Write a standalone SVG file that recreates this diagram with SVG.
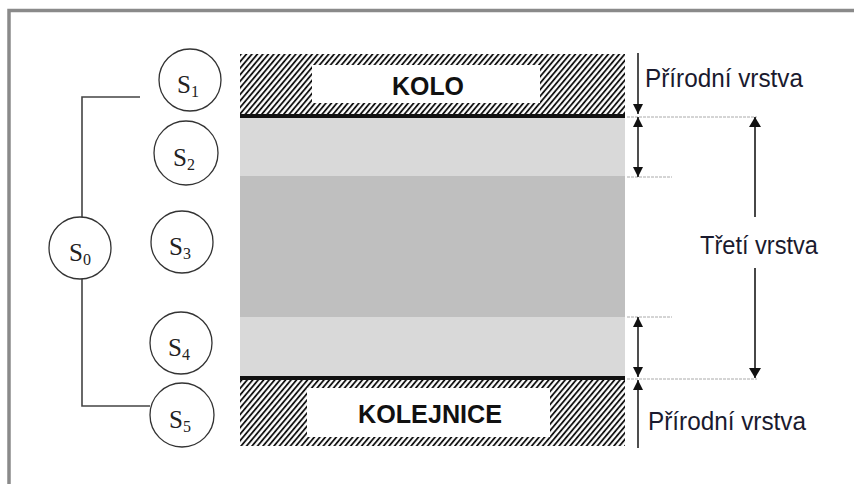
<svg xmlns="http://www.w3.org/2000/svg" width="854" height="484" viewBox="0 0 854 484">
<style>
.frame{fill:none;stroke:#8a8a8a;stroke-width:3.5}
.node circle{fill:#fff;stroke:#333;stroke-width:1.3}
.node text{font-family:"Liberation Serif","Times New Roman",serif;font-size:25px;fill:#222;text-anchor:middle}
.sub{font-size:16px}
.conn{fill:none;stroke:#444;stroke-width:1.6}
.lbl{font-family:"Liberation Sans",Arial,sans-serif;font-size:25px;fill:#1a1a2e}
.bold{font-family:"Liberation Sans",Arial,sans-serif;font-weight:bold;font-size:25px;fill:#111;text-anchor:middle}
.dot{stroke:#aaa;stroke-width:1;stroke-dasharray:3 1}
.arr{stroke:#222;stroke-width:1.6;fill:none}
.big{stroke:#333;stroke-width:1.8;fill:none}
</style>
<defs>
<pattern id="hatch" patternUnits="userSpaceOnUse" width="4.2" height="8" patternTransform="rotate(40)">
<line x1="1" y1="0" x2="1" y2="8" stroke="#000" stroke-width="1.7"/>
</pattern>
<marker id="ah" viewBox="0 0 10 10" refX="10" refY="5" markerWidth="10" markerHeight="10" markerUnits="userSpaceOnUse" orient="auto-start-reverse">
<path d="M0,0 L10,5 L0,10 Z" fill="#111"/>
</marker>
<marker id="ahb" viewBox="0 0 10 12" refX="10" refY="6" markerWidth="11" markerHeight="12" markerUnits="userSpaceOnUse" orient="auto-start-reverse">
<path d="M0,0 L10,6 L0,12 Z" fill="#111"/>
</marker>
</defs>
<rect width="854" height="484" fill="#fff"/>
<path class="frame" d="M9,484 V10.5 H854"/>

<g id="layers">
<rect x="240" y="54" width="385" height="60" fill="url(#hatch)"/>
<rect x="312" y="65" width="228" height="38" fill="#fff"/>
<rect x="240" y="114" width="385" height="4" fill="#111"/>
<rect x="240" y="118" width="385" height="58" fill="#d9d9d9"/>
<rect x="240" y="176" width="385" height="141" fill="#bfbfbf"/>
<rect x="240" y="317" width="385" height="59" fill="#d9d9d9"/>
<rect x="240" y="376" width="385" height="4" fill="#111"/>
<rect x="240" y="380" width="385" height="66" fill="url(#hatch)"/>
<rect x="307" y="388" width="243" height="49" fill="#fff"/>
<text class="bold" x="428" y="95" textLength="72" lengthAdjust="spacingAndGlyphs">KOLO</text>
<text class="bold" x="430" y="423" textLength="144" lengthAdjust="spacingAndGlyphs">KOLEJNICE</text>
</g>

<g id="connectors">
<path class="conn" d="M140,97 H82 V217"/>
<path class="conn" d="M82,279 V406 H150"/>
</g>

<g id="S1" class="node"><circle cx="190" cy="80" r="31"/><text x="188" y="93">S<tspan class="sub" dy="4">1</tspan></text></g>
<g id="S2" class="node"><circle cx="186" cy="153" r="32"/><text x="184" y="166">S<tspan class="sub" dy="4">2</tspan></text></g>
<g id="S3" class="node"><circle cx="182" cy="242" r="31"/><text x="180" y="255">S<tspan class="sub" dy="4">3</tspan></text></g>
<g id="S0" class="node"><circle cx="80" cy="248" r="31"/><text x="80" y="261">S<tspan class="sub" dy="4">0</tspan></text></g>
<g id="S4" class="node"><circle cx="181" cy="343" r="31"/><text x="179" y="356">S<tspan class="sub" dy="4">4</tspan></text></g>
<g id="S5" class="node"><circle cx="182" cy="415" r="32"/><text x="180" y="428">S<tspan class="sub" dy="4">5</tspan></text></g>

<g id="dimensions">
<line class="dot" x1="627" y1="117" x2="757" y2="117"/>
<line class="dot" x1="627" y1="177" x2="672" y2="177"/>
<line class="dot" x1="627" y1="317" x2="672" y2="317"/>
<line class="dot" x1="627" y1="379" x2="757" y2="379"/>
<line class="arr" x1="638" y1="53" x2="638" y2="114" marker-end="url(#ah)"/>
<line class="arr" x1="638" y1="117" x2="638" y2="177" marker-start="url(#ah)" marker-end="url(#ah)"/>
<line class="arr" x1="638" y1="317" x2="638" y2="377" marker-start="url(#ah)" marker-end="url(#ah)"/>
<line class="arr" x1="638" y1="448" x2="638" y2="380" marker-end="url(#ah)"/>
<line class="big" x1="755" y1="217" x2="755" y2="117" marker-end="url(#ahb)"/>
<line class="big" x1="755" y1="268" x2="755" y2="378" marker-end="url(#ahb)"/>
</g>

<g id="labels">
<text class="lbl" x="645" y="87" textLength="158" lengthAdjust="spacingAndGlyphs">Přírodní vrstva</text>
<text class="lbl" x="700" y="254" textLength="118" lengthAdjust="spacingAndGlyphs">Třetí vrstva</text>
<text class="lbl" x="648" y="430" textLength="158" lengthAdjust="spacingAndGlyphs">Přírodní vrstva</text>
</g>
</svg>
